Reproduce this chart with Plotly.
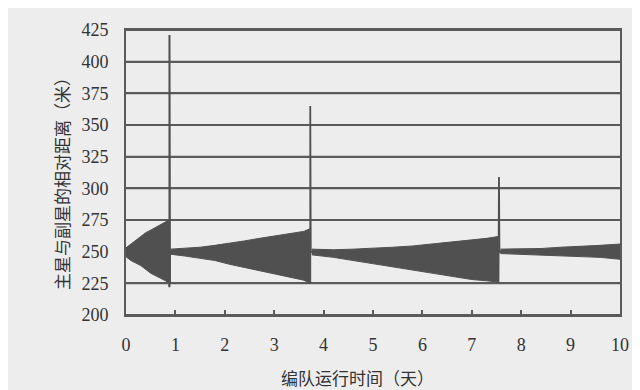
import plotly.graph_objects as go

# Envelope of the oscillating relative distance (days, metres)
seg1_t  = [0.0, 0.1, 0.2, 0.3, 0.4, 0.5, 0.6, 0.7, 0.8, 0.87]
seg1_hi = [253, 256, 259, 262, 265, 267, 269, 271, 273, 275]
seg1_lo = [246, 243, 241, 239, 236, 233, 231, 229, 227, 225]

seg2_t  = [0.9, 1.2, 1.5, 1.8, 2.1, 2.4, 2.7, 3.0, 3.3, 3.6, 3.72]
seg2_hi = [252, 252.5, 253.5, 255, 256.5, 258.5, 260.5, 262.5, 264, 266, 268]
seg2_lo = [248, 246.5, 245, 243, 240, 237.5, 235, 232, 230, 227.5, 225]

seg3_t  = [3.76, 4.2, 4.6, 5.0, 5.4, 5.8, 6.2, 6.6, 7.0, 7.3, 7.54]
seg3_hi = [252, 251.5, 252, 252.5, 253.5, 254.5, 256, 257.5, 259.5, 260.5, 262]
seg3_lo = [247.5, 245.5, 243.5, 241, 238.5, 236, 233, 230.5, 228, 227, 226]

seg4_t  = [7.58, 8.0, 8.4, 8.8, 9.2, 9.6, 10.0]
seg4_hi = [252, 252, 252.5, 253.5, 254, 255, 256]
seg4_lo = [248.5, 248, 247.5, 247, 246, 245.5, 244]

# Manoeuvre spikes
spike1_t = [0.87, 0.87, 0.88, 0.88, 0.89, 0.89]
spike1_y = [224, 358, 222, 421, 226, 250]
spike2_t = [3.72, 3.72, 3.73, 3.73, 3.74]
spike2_y = [226, 322, 225, 365, 250]
spike3_t = [7.54, 7.54, 7.55, 7.55, 7.56]
spike3_y = [226, 300, 226, 309, 250]

x_ticks = [0, 1, 2, 3, 4, 5, 6, 7, 8, 9, 10]
y_ticks = [200, 225, 250, 275, 300, 325, 350, 375, 400, 425]

INK = "#505050"
BG = "#ededed"
GRID = "#5a5a5a"

fig = go.Figure()

# horizontal grid lines at the y tick values
for v in y_ticks:
    fig.add_hline(y=v, line=dict(color=GRID, width=2), layer="below")

for t, hi, lo in [(seg1_t, seg1_hi, seg1_lo), (seg2_t, seg2_hi, seg2_lo),
                  (seg3_t, seg3_hi, seg3_lo), (seg4_t, seg4_hi, seg4_lo)]:
    fig.add_trace(go.Scatter(
        x=t + t[::-1], y=hi + lo[::-1], mode="lines", fill="toself",
        fillcolor=INK, line=dict(color=INK, width=1), hoverinfo="skip",
        showlegend=False))

for t, y, w in [(spike1_t, spike1_y, 2), (spike2_t, spike2_y, 1.8), (spike3_t, spike3_y, 1.8)]:
    fig.add_trace(go.Scatter(x=t, y=y, mode="lines", line=dict(color=INK, width=w),
                             showlegend=False, hoverinfo="skip"))

serif = "Liberation Serif"
fig.update_layout(
    width=640, height=390,
    margin=dict(l=118, r=28, t=19, b=83),
    paper_bgcolor=BG, plot_bgcolor=BG,
    showlegend=False,
    font=dict(family=serif, size=18, color="#333333"),
    xaxis=dict(range=[0, 10], tickmode="array", tickvals=x_ticks,
               ticks="inside", ticklen=5, tickwidth=1.5, tickcolor=GRID,
               showgrid=False, zeroline=False, showline=True, linecolor=GRID,
               linewidth=2, mirror=True, ticklabelstandoff=12,
               tickfont=dict(family=serif, size=18, color="#333333")),
    yaxis=dict(range=[200, 425], tickmode="array", tickvals=y_ticks,
               ticks="outside", ticklen=12, tickcolor="rgba(0,0,0,0)",
               showgrid=True, gridcolor=GRID, gridwidth=2,
               zeroline=False, showline=True, linecolor=GRID, linewidth=2,
               mirror=True,
               tickfont=dict(family=serif, size=18, color="#333333")),
    annotations=[
        dict(text="编队运行时间（天）", xref="paper", yref="paper", x=0.468, y=-0.22,
             xanchor="center", yanchor="middle", showarrow=False,
             font=dict(family="Noto Sans CJK SC", size=17, color="#333333")),
        dict(text="主星与副星的相对距离（米）", xref="paper", yref="paper", x=-0.13, y=0.476,
             xanchor="center", yanchor="middle", showarrow=False, textangle=-90,
             font=dict(family="Noto Sans CJK SC", size=17, color="#333333")),
    ],
)

fig.write_html("out.html")
